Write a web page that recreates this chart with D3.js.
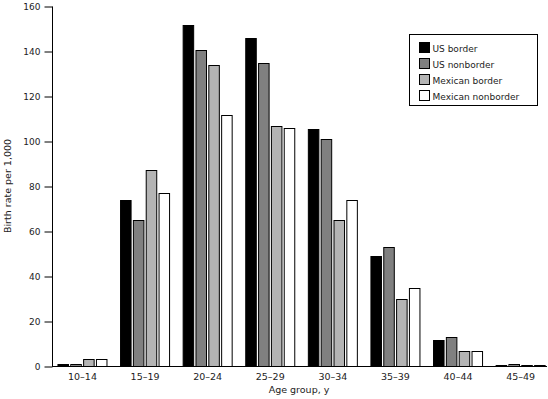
<!DOCTYPE html>
<html>
<head>
<meta charset="utf-8">
<script src="https://cdn.jsdelivr.net/npm/d3@7/dist/d3.min.js"></script>
<style>
  body { margin: 0; background: #fff; }
  text { font-family: "DejaVu Sans", Verdana, sans-serif; fill: #222; }
</style>
</head>
<body>
<svg width="548" height="399"></svg>
<script>
var ageGroups = ["10–14", "15–19", "20–24", "25–29", "30–34", "35–39", "40–44", "45–49"];
var seriesNames = ["US border", "US nonborder", "Mexican border", "Mexican nonborder"];
var usBorder = [1.0, 74, 151.5, 146, 105.5, 49, 11.5, 0.5];
var usNonborder = [0.9, 65, 140.5, 134.5, 101, 53, 13, 1];
var mexBorder = [3.2, 87, 134, 106.5, 65, 30, 6.5, 0.5];
var mexNonborder = [3.2, 77, 111.5, 106, 74, 34.5, 6.5, 0.5];
var yTicks = [0, 20, 40, 60, 80, 100, 120, 140, 160];
var fills = ["#000000", "#808080", "#b4b4b4", "#ffffff"];

var series = [usBorder, usNonborder, mexBorder, mexNonborder];

var svg = d3.select("svg");
var plotLeft = 52, plotRight = 547, plotTop = 6, plotBottom = 366;

// bands reach a little past the axis end, as in the original
var x0 = d3.scaleBand().domain(ageGroups).range([51.7, 551.4]).paddingInner(0.217).paddingOuter(0.1);
var x1 = d3.scaleBand().domain(d3.range(4)).range([0, x0.bandwidth()]).paddingInner(0.18);
var y = d3.scaleLinear().domain([0, 160]).range([plotBottom, plotTop]);

// bars
var groups = svg.append("g").selectAll("g").data(ageGroups).enter().append("g")
  .attr("transform", function(d) { return "translate(" + x0(d) + ",0)"; });
groups.selectAll("rect").data(function(d, i) {
  return series.map(function(s, k) { return { k: k, v: s[i] }; });
}).enter().append("rect")
  .attr("x", function(d) { return x1(d.k); })
  .attr("width", x1.bandwidth())
  .attr("y", function(d) { return Math.round(y(d.v)) + 0.5; })
  .attr("height", function(d) { return Math.max(0, plotBottom - Math.round(y(d.v))); })
  .attr("fill", function(d) { return fills[d.k]; })
  .attr("stroke", "#000")
  .attr("stroke-width", 1);

// y axis
var yAxis = d3.axisLeft(y).tickValues(yTicks).tickSize(8).tickPadding(4);
var gy = svg.append("g").attr("transform", "translate(" + (plotLeft + 0.5) + ",0.5)").call(yAxis);
gy.select(".domain").attr("d", "M0," + plotTop + "V" + plotBottom).attr("stroke", "#000");
gy.selectAll(".tick line").attr("stroke", "#000");
gy.selectAll("text").style("font-size", "9px").attr("fill", "#222").style("font-family", "DejaVu Sans, Verdana, sans-serif");

// x axis
var xAxis = d3.axisBottom(x0).tickSize(0).tickPadding(7);
var gx = svg.append("g").attr("transform", "translate(0," + (plotBottom + 0.5) + ")").call(xAxis);
gx.select(".domain").attr("d", "M" + plotLeft + ",0H" + plotRight).attr("stroke", "#000");
gx.selectAll("text").style("font-size", "9.5px").attr("fill", "#222").style("font-family", "DejaVu Sans, Verdana, sans-serif");

// axis titles
svg.append("text").attr("x", 299).attr("y", 393).attr("text-anchor", "middle")
  .style("font-size", "9.5px").text("Age group, y");
svg.append("text").attr("transform", "translate(11,186) rotate(-90)").attr("text-anchor", "middle")
  .style("font-size", "9.5px").text("Birth rate per 1,000");

// legend
var lg = svg.append("g").attr("transform", "translate(409.5,34.5)");
lg.append("rect").attr("width", 128).attr("height", 71).attr("fill", "#fff").attr("stroke", "#000");
var items = lg.selectAll(".item").data(seriesNames).enter().append("g")
  .attr("transform", function(d, i) { return "translate(10," + (8 + i * 16) + ")"; });
items.append("rect").attr("width", 10).attr("height", 10)
  .attr("fill", function(d, i) { return fills[i]; }).attr("stroke", "#000");
items.append("text").attr("x", 13).attr("y", 9).style("font-size", "9px").text(function(d) { return d; });
</script>
</body>
</html>
